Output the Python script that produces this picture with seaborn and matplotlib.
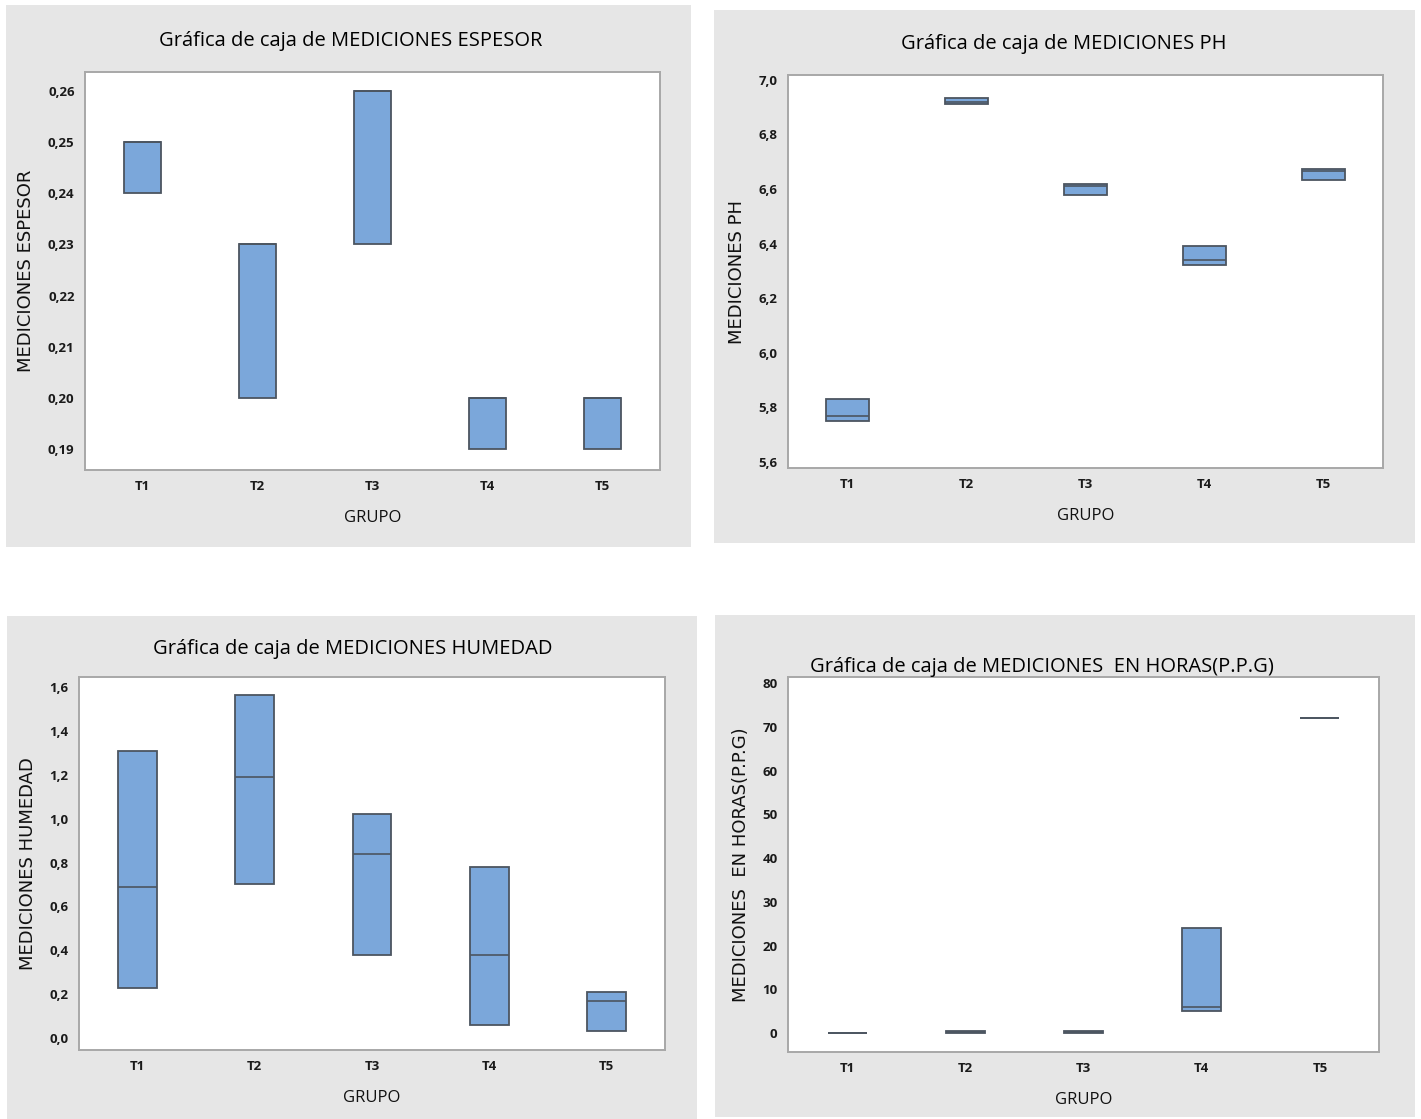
import matplotlib as mpl
mpl.use('Agg')
import matplotlib.pyplot as plt
from matplotlib.patches import Rectangle
from matplotlib.ticker import FuncFormatter
import numpy as np
import pandas as pd
import seaborn as sns

grupos = ['T1', 'T2', 'T3', 'T4', 'T5']

espesor_min = [0.24, 0.20, 0.23, 0.19, 0.19]
espesor_med = [0.25, 0.23, 0.26, 0.20, 0.20]
espesor_max = [0.25, 0.23, 0.26, 0.20, 0.20]

ph_min = [5.75, 6.91, 6.58, 6.32, 6.635]
ph_med = [5.77, 6.92, 6.61, 6.34, 6.665]
ph_max = [5.83, 6.935, 6.62, 6.39, 6.675]

humedad_min = [0.23, 0.70, 0.38, 0.06, 0.03]
humedad_med = [0.69, 1.19, 0.84, 0.38, 0.17]
humedad_max = [1.31, 1.565, 1.02, 0.78, 0.21]

horas_min = [0.0, 0.0, 0.0, 5.0, 72.0]
horas_med = [0.0, 0.25, 0.25, 6.0, 72.0]
horas_max = [0.0, 0.5, 0.5, 24.0, 72.0]

W, H = 1421, 1119
BG = '#e6e6e6'
FILL = '#7ba7da'
EDGE = '#4c5560'
FRAME = '#a8a8a8'
NARROW = ['Liberation Sans Narrow', 'Open Sans', 'DejaVu Sans']


def tabla(mins, meds, maxs):
    # Minitab con n=3 pone Q1=min y Q3=max; se repiten los extremos para que
    # los cuartiles de seaborn coincidan con la caja de Minitab
    filas = []
    for g, a, m, b in zip(grupos, mins, meds, maxs):
        for v in (a, a, m, b, b):
            filas.append({'GRUPO': g, 'valor': v})
    return pd.DataFrame(filas)


def panel(bg, box, titulo, ylabel, df, ylim, yticks, fmt, width, title_xy, ha='center'):
    bx0, by0, bx1, by1 = bg
    fig.patches.append(Rectangle((bx0 / W, 1 - by1 / H), (bx1 - bx0) / W, (by1 - by0) / H,
                                 transform=fig.transFigure, facecolor=BG, edgecolor='none', zorder=-5))
    x0, y0, x1, y1 = box
    ax = fig.add_axes([x0 / W, 1 - y1 / H, (x1 - x0) / W, (y1 - y0) / H])
    sns.boxplot(data=df, x='GRUPO', y='valor', ax=ax, width=width, whis=1.5,
                showcaps=False, showfliers=False,
                boxprops=dict(facecolor=FILL, edgecolor=EDGE, linewidth=1.3),
                medianprops=dict(color=EDGE, linewidth=1.2),
                whiskerprops=dict(color=EDGE, linewidth=1.0))
    ax.set_xlim(-0.5, 4.5)
    ax.set_ylim(*ylim)
    ax.set_yticks(yticks)
    ax.yaxis.set_major_formatter(FuncFormatter(fmt))
    ax.set_facecolor('white')
    for s in ax.spines.values():
        s.set_color(FRAME)
        s.set_linewidth(1.4)
    ax.tick_params(axis='both', colors=FRAME, length=4, width=1, direction='out')
    for lab in ax.get_xticklabels() + ax.get_yticklabels():
        lab.set_color('#1a1a1a')
        lab.set_family(NARROW)
        lab.set_fontsize(9.5)
        lab.set_fontweight('bold')
    ax.set_xlabel('GRUPO', family=NARROW, fontsize=12, color='#111111', labelpad=12)
    ax.set_ylabel(ylabel, family='DejaVu Sans', fontsize=13, color='#111111', labelpad=9)
    fig.text(title_xy[0] / W, 1 - title_xy[1] / H, titulo, family=NARROW, fontsize=14.5,
             color='#000000', ha=ha, va='center')
    return ax


sns.set_style('white')
fig = plt.figure(figsize=(W / 100, H / 100), dpi=100)
fig.patch.set_facecolor('white')

coma2 = lambda v, p: ('%.2f' % v).replace('.', ',')
coma1 = lambda v, p: ('%.1f' % v).replace('.', ',')
entero = lambda v, p: '%d' % v

panel((6, 5, 691, 547), (85, 72, 660, 470), 'Gráfica de caja de MEDICIONES ESPESOR',
      'MEDICIONES ESPESOR', tabla(espesor_min, espesor_med, espesor_max),
      (0.1859, 0.2637), np.arange(0.19, 0.2651, 0.01), coma2, 0.32, (351, 41))

panel((714, 10, 1415, 543), (788, 75, 1383, 468), 'Gráfica de caja de MEDICIONES PH',
      'MEDICIONES PH', tabla(ph_min, ph_med, ph_max),
      (5.578, 7.018), np.arange(5.6, 7.01, 0.2), coma1, 0.36, (1064, 44))

panel((7, 616, 697, 1119), (79, 677, 665, 1050), 'Gráfica de caja de MEDICIONES HUMEDAD',
      'MEDICIONES HUMEDAD', tabla(humedad_min, humedad_med, humedad_max),
      (-0.055, 1.646), np.arange(0.0, 1.61, 0.2), coma1, 0.33, (353, 649))

panel((715, 615, 1415, 1117), (788, 677, 1379, 1052), 'Gráfica de caja de MEDICIONES  EN HORAS(P.P.G)',
      'MEDICIONES  EN HORAS(P.P.G)', tabla(horas_min, horas_med, horas_max),
      (-4.34, 81.4), np.arange(0, 81, 10), entero, 0.33, (810, 667), ha='left')

plt.savefig('out.png', dpi=100, facecolor='white')
